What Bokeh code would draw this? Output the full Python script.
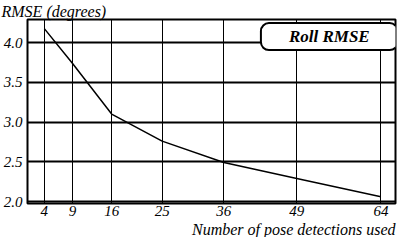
from bokeh.plotting import figure
from bokeh.models import FixedTicker, Label, Range1d, Title
from bokeh.embed import file_html
from bokeh.resources import INLINE

detections = [4, 9, 16, 25, 36, 49, 64]
roll_rmse = [4.175, 3.74, 3.10, 2.76, 2.49, 2.29, 2.06]
y_ticks = [2.0, 2.5, 3.0, 3.5, 4.0]
y_tick_labels = {2.0: "2.0", 2.5: "2.5", 3.0: "3.0", 3.5: "3.5", 4.0: "4.0"}
series_name = "Roll RMSE"
y_title = "RMSE (degrees)"
x_title = "Number of pose detections used"

FONT = "Liberation Serif"

p = figure(width=398, height=237, output_backend="svg", toolbar_location=None,
           x_range=Range1d(1.0, 66.6), y_range=Range1d(1.975, 4.29),
           min_border_left=26, min_border_right=3, min_border_top=0, min_border_bottom=0)

p.title.text = y_title
p.title.align = "left"
p.title.offset = -26
p.title.text_font = FONT
p.title.text_font_style = "italic"
p.title.text_font_size = "16px"
p.title.text_color = "black"
p.title.standoff = 0

p.add_layout(Title(text=x_title, align="right", text_font=FONT, text_font_style="italic",
                   text_font_size="16px", text_color="black", standoff=0), "below")

p.outline_line_color = "black"
p.outline_line_width = 2
p.outline_line_alpha = 1

p.xaxis.ticker = FixedTicker(ticks=detections)
p.yaxis.ticker = FixedTicker(ticks=y_ticks)
p.yaxis.major_label_overrides = y_tick_labels
for ax in (p.xaxis, p.yaxis):
    ax.axis_line_color = None
    ax.major_tick_line_color = None
    ax.minor_tick_line_color = None
    ax.major_tick_in = 0
    ax.major_tick_out = 0
    ax.minor_tick_in = 0
    ax.minor_tick_out = 0
    ax.major_label_text_font = FONT
    ax.major_label_text_font_style = "italic"
    ax.major_label_text_font_size = "15px"
    ax.major_label_text_color = "black"
p.xaxis.major_label_standoff = 2
p.yaxis.major_label_standoff = 5

p.xgrid.ticker = FixedTicker(ticks=detections)
p.ygrid.ticker = FixedTicker(ticks=y_ticks)
p.xgrid.grid_line_color = "black"
p.xgrid.grid_line_alpha = 1
p.xgrid.grid_line_width = 1
p.ygrid.grid_line_color = "black"
p.ygrid.grid_line_alpha = 1
p.ygrid.grid_line_width = 2

p.line(detections, roll_rmse, line_color="black", line_width=1.5)

p.add_layout(Label(x=54.8, y=4.075, text=series_name, text_align="center", text_baseline="middle",
                   text_font=FONT, text_font_style="bold italic", text_font_size="17px",
                   text_color="black", background_fill_color="white",
                   border_line_color="black", border_line_width=2,
                   border_radius=8, padding=(28, 4)))

open("out.html", "w").write(file_html(p, INLINE))
